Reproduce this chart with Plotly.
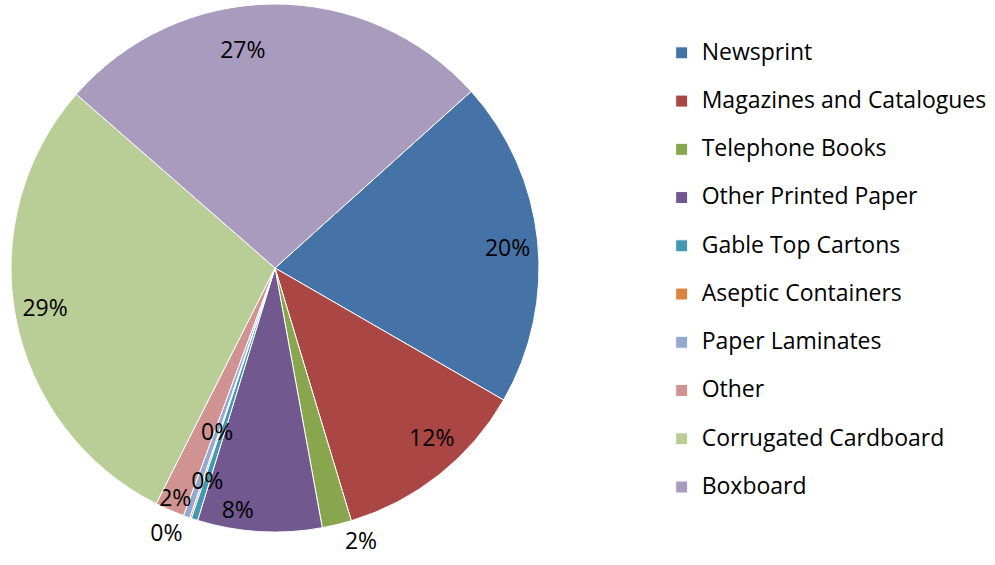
import plotly.graph_objects as go

categories = ["Newsprint", "Magazines and Catalogues", "Telephone Books", "Other Printed Paper",
              "Gable Top Cartons", "Aseptic Containers", "Paper Laminates", "Other",
              "Corrugated Cardboard", "Boxboard"]
shares = [20.0, 12.0, 1.8, 7.6, 0.4, 0.1, 0.4, 1.8, 29.0, 26.9]
colors = ["#4572A7", "#AA4643", "#89A54E", "#71588F", "#4198AF", "#DB843D",
          "#93A9CF", "#D19392", "#B9CD96", "#A99BBD"]

# label placement per slice: which label ring carries the slice's percentage
main_text_pos = ["none", "none", "outside", "none", "none", "outside", "none", "inside", "none", "none"]
ring_outer_pos = ["outside", "outside", "none", "none", "none", "none", "none", "none", "outside", "outside"]
ring_mid_pos = ["none", "none", "none", "outside", "inside", "none", "none", "none", "none", "none"]
ring_inner_pos = ["none", "none", "none", "none", "none", "none", "inside", "none", "none", "none"]

FONT = "Open Sans"
W, H = 995, 565
CX, CY, R_MAIN = 275, 268, 264


def dom(r):
    return dict(x=[(CX - r) / W, (CX + r) / W], y=[1 - (CY + r) / H, 1 - (CY - r) / H])


legend_labels = ['<span style="font-size:23px">%s</span><br> ' % c for c in categories]
clear = ["rgba(0,0,0,0)"] * len(categories)
common = dict(labels=legend_labels, values=shares, sort=False, direction="clockwise",
              rotation=48, texttemplate="%{percent:.0%}", insidetextorientation="horizontal",
              textfont=dict(family=FONT, size=23, color="black"))

fig = go.Figure()
fig.add_trace(go.Pie(
    marker=dict(colors=colors, line=dict(color="white", width=1)),
    textposition=main_text_pos, hoverinfo="label+percent",
    domain=dom(R_MAIN), **common))
for r, pos in [(203, ring_outer_pos), (225, ring_mid_pos), (175, ring_inner_pos)]:
    fig.add_trace(go.Pie(
        marker=dict(colors=clear, line=dict(width=0)),
        textposition=pos, hoverinfo="skip", showlegend=False,
        domain=dom(r), **common))

fig.update_layout(
    width=W, height=H,
    margin=dict(l=0, r=0, t=0, b=0, autoexpand=False),
    paper_bgcolor="white",
    showlegend=True,
    uniformtext=dict(minsize=23, mode="show"),
    legend=dict(
        x=0.665, y=0.938, xanchor="left", yanchor="top",
        font=dict(family=FONT, size=17.4, color="black"),
        valign="top",
        itemwidth=30,
    ),
    font=dict(family=FONT),
)

fig.write_html("out.html", config={"displayModeBar": False},
               post_script="document.body.style.margin='0px';")
